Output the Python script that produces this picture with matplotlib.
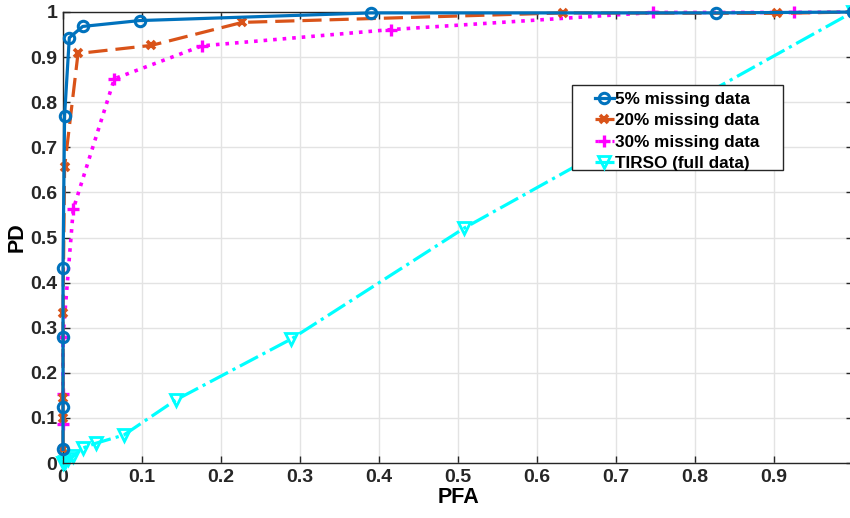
import numpy as np
import matplotlib
matplotlib.use("Agg")
import matplotlib.pyplot as plt
from matplotlib.patches import Rectangle

# ROC data
pfa_5 = [0, 0, 0, 0, 0.002, 0.008, 0.025, 0.097, 0.39, 0.826, 1.0]
pd_5 = [0.03, 0.125, 0.28, 0.433, 0.77, 0.943, 0.968, 0.981, 0.998, 0.998, 1.0]

pfa_20 = [0, 0, 0, 0, 0.002, 0.019, 0.112, 0.227, 0.633, 0.904, 1.0]
pd_20 = [0.03, 0.10, 0.145, 0.332, 0.656, 0.908, 0.926, 0.977, 0.998, 0.997, 1.0]

pfa_30 = [0, 0, 0, 0.013, 0.065, 0.176, 0.415, 0.747, 0.925, 1.0]
pd_30 = [0.087, 0.153, 0.28, 0.563, 0.852, 0.925, 0.961, 0.999, 0.999, 1.0]

pfa_tirso = [0, 0.003, 0.006, 0.013, 0.025, 0.042, 0.077, 0.143, 0.289, 0.508, 1.0]
pd_tirso = [0, 0.003, 0.008, 0.015, 0.033, 0.044, 0.062, 0.14, 0.275, 0.521, 1.0]

plt.rcParams.update({
    "font.family": "Liberation Sans",
    "font.weight": "bold",
    "font.size": 12,
})

fig = plt.figure(figsize=(8.5, 5.18), dpi=100)
ax = fig.add_axes([63 / 850, 55 / 518, 790 / 850, 451 / 518])

lw = 2.3
ax.plot(pfa_5, pd_5, "-o", color="#0072BD", lw=lw, ms=7.5, mfc="none", mew=2.2,
        clip_on=False, zorder=5, label="5% missing data")
ax.plot(pfa_20, pd_20, "--x", color="#D95319", lw=lw, ms=6, mew=2.6,
        dashes=(6, 2.5), clip_on=False, zorder=4, label="20% missing data")
ax.plot(pfa_30, pd_30, ":+", color="#FF00FF", lw=lw + 0.3, ms=9, mew=2.4,
        clip_on=False, zorder=3, label="30% missing data")
ax.plot(pfa_tirso, pd_tirso, "-.v", color="#00FFFF", lw=lw, ms=8.5, mfc="none",
        mew=2.0, clip_on=False, zorder=2, label="TIRSO (full data)")

ax.set_xlim(0, 1)
ax.set_ylim(0, 1)
ax.set_xticks(np.arange(0, 0.95, 0.1))
ax.set_xticklabels(["0"] + [f"{v:.1f}" for v in np.arange(0.1, 0.95, 0.1)])
ax.set_yticks(np.arange(0, 1.05, 0.1))
ax.set_yticklabels(["0"] + [f"{v:.1f}" for v in np.arange(0.1, 0.95, 0.1)] + ["1"])

ax.grid(True, color="#E3E3E3", lw=1.0)
ax.set_axisbelow(True)
for sp in ax.spines.values():
    sp.set_color("#262626")
    sp.set_linewidth(1.0)
ax.tick_params(direction="in", length=5, width=1.0, colors="#262626",
               labelsize=14, top=True, right=True, pad=4)

ax.set_xlabel("PFA", fontsize=15.5, fontweight="bold", labelpad=1)
ax.set_ylabel("PD", fontsize=15.5, fontweight="bold", labelpad=2)

# legend frame drawn separately (MATLAB style wide box)
frame = Rectangle((572 / 850, 1 - 170 / 518), 211 / 850, 85 / 518,
                  transform=fig.transFigure, facecolor="white",
                  edgecolor="#262626", lw=1.0, zorder=6)
fig.add_artist(frame)

leg = fig.legend(*ax.get_legend_handles_labels(), loc="upper left",
                 bbox_to_anchor=(583 / 850, 1 - 80 / 518),
                 fontsize=12.3, frameon=False, handlelength=1.1,
                 handletextpad=0.1, borderpad=0.2, labelspacing=0.38)
leg.set_zorder(7)
for h in leg.legend_handles:
    h.set_linewidth(2.3)

fig.savefig("out.png", dpi=100)
